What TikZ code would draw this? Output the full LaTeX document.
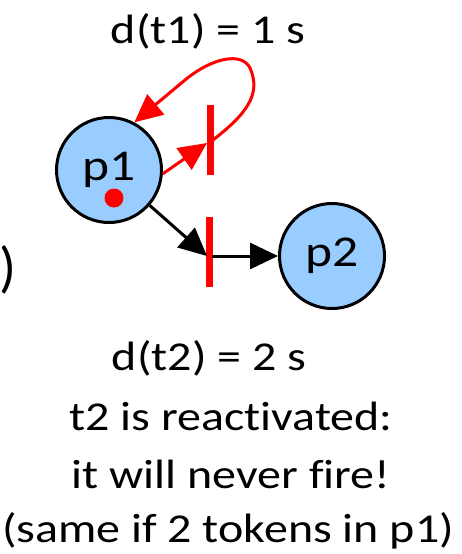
\documentclass[tikz,border=0pt]{standalone}
\usepackage{fontspec}
\setmainfont{Carlito}[FakeStretch=1.17,Ligatures=NoCommon]
\newfontfamily\parfont{Carlito}
\usetikzlibrary{arrows.meta}
\definecolor{placeblue}{HTML}{99CCFF}
\begin{document}
\begin{tikzpicture}[x=1pt,y=-1pt,
  place/.style={circle,draw=black,line width=3pt,fill=placeblue,minimum size=105pt,inner sep=0pt,font=\fontsize{44}{50}\selectfont},
  tbar/.style={fill=red,draw=none,minimum width=7pt,minimum height=70pt,inner sep=0pt},
  token/.style={circle,fill=red,draw=none,minimum size=19pt,inner sep=0pt},
  arc/.style={line width=3pt,-{Triangle[length=28pt,width=26pt]}},
  lbl/.style={anchor=base,inner sep=0pt,font=\fontsize{41}{48}\selectfont}]
\useasboundingbox (0,0) rectangle (462,554);
\node[place] (p1) at (109,170) {p1};
\node[place] (p2) at (332,256) {p2};
\node[token] (tok) at (114,198) {};
\node[tbar] (t1) at (210,139.5) {};
\node[tbar] (t2) at (209.5,252) {};
\coordinate (t1in) at (207,143);
\coordinate (t1out) at (213,140);
\coordinate (t2in) at (207,256);
\coordinate (t2out) at (212,256);
\draw[arc,red] (p1.-4) -- (t1in);
\draw[arc,red] (t1out) .. controls (245,115) and (262,95) .. (250,68)
  .. controls (242,52) and (213,57) .. (185,80) -- (p1.62);
\draw[arc,black] (p1.-41) -- (t2in);
\draw[arc,black] (t2out) -- (p2.west);
\node[lbl] (d1) at (208,43) {d(t1) = 1 s};
\node[lbl] (d2) at (209,370) {d(t2) = 2 s};
\node[lbl] (l2) at (231,430) {t2 is reactivated:};
\node[lbl] (l3) at (231,488) {it will never fire!};
\node[lbl] (l4) at (228,542) {(same if 2 tokens in p1)};
\node[anchor=base east,inner sep=0pt,font=\parfont\fontsize{56}{64}\selectfont] (par) at (17,286) {)};
\end{tikzpicture}
\end{document}
